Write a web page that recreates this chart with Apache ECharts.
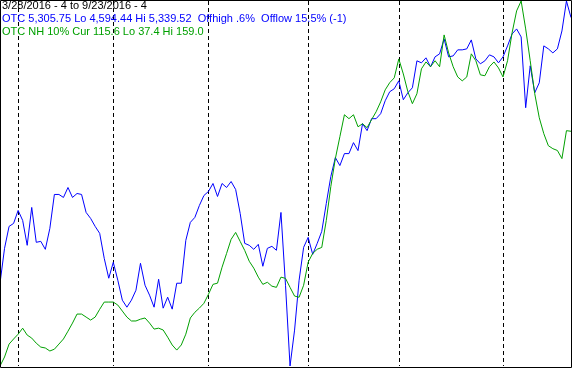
<!DOCTYPE html>
<html><head><meta charset="utf-8">
<script src="https://cdn.jsdelivr.net/npm/echarts@6/dist/echarts.min.js"></script>
<style>html,body{margin:0;padding:0;background:#fff}#c{width:572px;height:368px}</style>
</head><body><div id="c"></div>
<script>
// trading days per month, 3/28/2016 - 9/23/2016
const mar = [28,29,30,31];
const apr = [1,4,5,6,7,8,11,12,13,14,15,18,19,20,21,22,25,26,27,28,29];
const may = [2,3,4,5,6,9,10,11,12,13,16,17,18,19,20,23,24,25,26,27,31];
const jun = [1,2,3,6,7,8,9,10,13,14,15,16,17,20,21,22,23,24,27,28,29,30];
const jul = [1,5,6,7,8,11,12,13,14,15,18,19,20,21,22,25,26,27,28,29];
const aug = [1,2,3,4,5,8,9,10,11,12,15,16,17,18,19,22,23,24,25,26,29,30,31];
const sep = [1,2,6,7,8,9,12,13,14,15,16,19,20,21,22,23];
const monthDays = [[3,mar],[4,apr],[5,may],[6,jun],[7,jul],[8,aug],[9,sep]];
const dates = [];
monthDays.forEach(([m, ds]) => ds.forEach(d => dates.push(m + '/' + d)));
const monthStarts = ['4/1','5/2','6/1','7/1','8/1','9/1'];

const blueLo = 4594.44, blueHi = 5339.52;
const greenLo = 37.4, greenHi = 159.0;

const otc = [
4763.4, 4834.6, 4879.4, 4885.5, 4912.0, 4891.6, 4840.8, 4918.1, 4846.9, 4848.9,
4832.6, 4875.4, 4944.6, 4944.6, 4938.5, 4958.8, 4938.5, 4946.6, 4944.6, 4907.9,
4895.7, 4879.4, 4865.2, 4814.3, 4773.6, 4806.1, 4769.5, 4728.8, 4714.5, 4728.8,
4749.1, 4804.1, 4759.3, 4739.0, 4714.5, 4771.5, 4712.5, 4734.9, 4710.5, 4763.4,
4763.4, 4850.9, 4887.6, 4897.8, 4922.2, 4942.5, 4950.7, 4967.0, 4940.5, 4967.0,
4958.8, 4971.0, 4954.8, 4905.9, 4844.8, 4840.8, 4832.6, 4842.8, 4798.0, 4834.6,
4838.7, 4830.6, 4907.9, 4759.3, 4594.44, 4667.7, 4769.5, 4836.7, 4857.0, 4822.4,
4844.8, 4869.3, 4926.3, 4981.2, 5019.9, 5003.6, 5028.0, 5028.0, 5050.4, 5034.1,
5089.1, 5074.9, 5099.3, 5099.3, 5109.5, 5135.9, 5154.3, 5160.4, 5176.6, 5138.0,
5152.2, 5162.4, 5217.4, 5213.3, 5223.5, 5205.1, 5225.5, 5231.6, 5262.1, 5225.5,
5227.5, 5239.8, 5239.8, 5241.8, 5260.1, 5221.4, 5211.3, 5217.4, 5229.6, 5225.5,
5213.3, 5225.5, 5247.9, 5272.3, 5282.5, 5266.2, 5121.7, 5207.2, 5152.2, 5172.6,
5247.9, 5241.8, 5233.6, 5241.8, 5278.4, 5339.52, 5305.75
];

const nh10 = [
37.4, 40.4, 44.7, 46.4, 48.0, 50.0, 47.7, 46.7, 45.0, 43.7,
43.4, 42.4, 43.0, 44.7, 46.4, 49.0, 51.7, 54.7, 54.7, 53.7,
52.7, 53.7, 56.3, 58.7, 58.7, 58.7, 57.7, 55.7, 53.7, 52.4,
52.4, 53.0, 53.4, 51.7, 49.7, 50.0, 49.4, 47.0, 44.4, 42.7,
44.4, 48.0, 53.4, 55.3, 56.7, 58.3, 61.3, 64.6, 65.0, 70.3,
74.9, 79.6, 81.9, 78.9, 75.9, 72.3, 70.0, 67.0, 64.6, 65.3,
64.0, 63.6, 67.0, 66.6, 63.6, 60.7, 60.3, 64.3, 72.0, 74.9,
76.3, 76.9, 85.9, 97.2, 106.5, 113.8, 121.1, 119.8, 121.1, 117.1,
118.1, 116.8, 119.5, 122.1, 125.4, 129.4, 131.8, 133.4, 139.7, 134.7,
128.8, 124.8, 128.1, 136.4, 138.7, 137.1, 139.1, 137.1, 147.7, 141.7,
137.1, 133.7, 132.4, 133.7, 141.4, 139.1, 134.4, 134.1, 137.1, 138.7,
136.7, 133.7, 139.1, 148.4, 155.7, 159.0, 149.7, 139.1, 128.1, 120.1,
114.8, 110.8, 109.8, 109.2, 106.5, 115.8, 115.6
];

const headerLines = [
  {text: '3/28/2016 - 4 to 9/23/2016 - 4', color: '#000000'},
  {text: 'OTC 5,305.75 Lo 4,594.44 Hi 5,339.52  Offhigh .6%  Offlow 15.5% (-1)', color: '#0000ff'},
  {text: 'OTC NH 10% Cur 115.6 Lo 37.4 Hi 159.0', color: '#00a000'}
];

const chart = echarts.init(document.getElementById('c'), null, {renderer: 'canvas'});
chart.setOption({
  animation: false,
  backgroundColor: '#ffffff',
  grid: {left: 0, right: 1, top: 1, bottom: 2, containLabel: false},
  xAxis: {
    type: 'category', data: dates, boundaryGap: false,
    axisLine: {show: false}, axisTick: {show: false}, axisLabel: {show: false},
    splitLine: {
      show: true,
      interval: (i, v) => monthStarts.indexOf(v) >= 0,
      lineStyle: {color: '#000000', width: 1, type: [4, 3]}
    }
  },
  yAxis: [
    {type: 'value', min: blueLo, max: blueHi, show: false},
    {type: 'value', min: greenLo, max: greenHi, show: false}
  ],
  series: [
    {type: 'line', data: otc, yAxisIndex: 0, showSymbol: false, symbol: 'none',
     lineStyle: {color: '#0000ff', width: 1}, z: 3},
    {type: 'line', data: nh10, yAxisIndex: 1, showSymbol: false, symbol: 'none',
     lineStyle: {color: '#00a000', width: 1}, z: 4}
  ],
  graphic: [
    {type: 'rect', z: 10, silent: true,
     shape: {x: 0.5, y: 0.5, width: 571, height: 367},
     style: {fill: null, stroke: '#000000', lineWidth: 1}}
  ].concat(headerLines.map((l, i) => ({
    type: 'text', z: 11, silent: true, x: 2, y: i * 13,
    style: {text: l.text, fill: l.color, font: '11px "Liberation Sans", Arial, sans-serif', verticalAlign: 'top'}
  })))
});
</script>
</body></html>
